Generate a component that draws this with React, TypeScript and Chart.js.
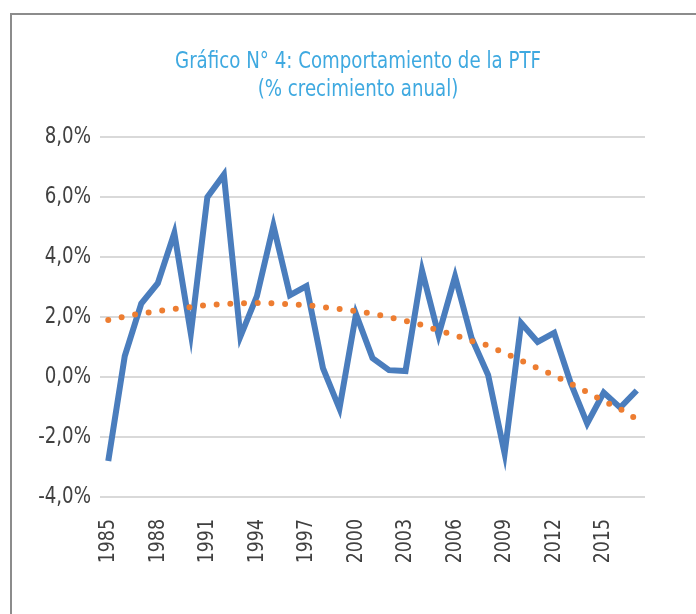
import React, { useEffect, useRef } from "react";
import { Chart, registerables } from "chart.js";

Chart.register(...registerables);

const titleLines = ["Gráfico N° 4: Comportamiento de la PTF", "(% crecimiento anual)"];

const years = [
  "1985", "1986", "1987", "1988", "1989", "1990", "1991", "1992", "1993", "1994",
  "1995", "1996", "1997", "1998", "1999", "2000", "2001", "2002", "2003", "2004",
  "2005", "2006", "2007", "2008", "2009", "2010", "2011", "2012", "2013", "2014",
  "2015", "2016", "2017",
];

// PTF growth, % per year
const ptf = [
  -2.8, 0.7, 2.45, 3.13, 4.8, 1.45, 6.0, 6.75, 1.35, 2.7,
  5.05, 2.73, 3.03, 0.3, -1.05, 2.1, 0.63, 0.23, 0.2, 3.55,
  1.4, 3.35, 1.3, 0.07, -2.55, 1.8, 1.17, 1.47, -0.2, -1.55,
  -0.52, -1.02, -0.45,
];

// polynomial trend line
const trend = [
  1.9, 2.02, 2.12, 2.2, 2.27, 2.33, 2.4, 2.43, 2.46, 2.47,
  2.46, 2.43, 2.4, 2.33, 2.27, 2.2, 2.12, 2.0, 1.87, 1.74,
  1.55, 1.4, 1.2, 1.05, 0.8, 0.55, 0.3, 0.05, -0.22, -0.5,
  -0.8, -1.07, -1.4,
];

const yMin = -4;
const yMax = 8;
const yStep = 2;
const labelEvery = 3;

const FONT = "'DejaVu Sans Condensed', 'DejaVu Sans', sans-serif";
const TEXT_SCALE_X = 0.88;

// narrows every text glyph run horizontally (around its anchor) to mimic a condensed face
const narrowText = {
  id: "narrowText",
  beforeInit(chart: any) {
    const ctx = chart.ctx;
    if (ctx.__narrow) return;
    const orig = ctx.fillText.bind(ctx);
    ctx.fillText = function (t: string, x: number, y: number, mw?: number) {
      ctx.save();
      ctx.translate(x, y);
      ctx.scale(TEXT_SCALE_X, 1);
      if (mw === undefined) orig(t, 0, 0);
      else orig(t, 0, 0, mw / TEXT_SCALE_X);
      ctx.restore();
    };
    ctx.__narrow = true;
  },
};

export default function App() {
  const ref = useRef<HTMLCanvasElement | null>(null);

  useEffect(() => {
    if (!ref.current) return;
    const chart = new Chart(ref.current, {
      type: "line",
      data: {
        labels: years,
        datasets: [
          {
            label: "Tendencia",
            data: trend,
            borderColor: "#ed7d31",
            borderWidth: 6,
            borderDash: [0, 13.7],
            borderCapStyle: "round",
            pointRadius: 0,
            fill: false,
            tension: 0,
            order: 0,
          },
          {
            label: "PTF",
            data: ptf,
            borderColor: "#4a7dbd",
            borderWidth: 6,
            pointRadius: 0,
            fill: false,
            tension: 0,
            borderJoinStyle: "miter",
            order: 1,
          },
        ],
      },
      plugins: [narrowText],
      options: {
        responsive: false,
        animation: false,
        layout: { padding: { left: 20, right: 0, top: 0, bottom: 0 } },
        plugins: {
          legend: { display: false },
          tooltip: { enabled: false },
          title: {
            display: true,
            text: titleLines,
            color: "#3fa9e0",
            font: { family: FONT, size: 23, weight: "normal", lineHeight: 1.22 },
            padding: { top: 48, bottom: 33 },
          },
        },
        scales: {
          x: {
            type: "category",
            offset: true,
            grid: { display: false, drawTicks: false },
            border: { display: false },
            ticks: {
              autoSkip: false,
              minRotation: 90,
              maxRotation: 90,
              padding: 22,
              color: "#404040",
              font: { family: FONT, size: 22 },
              callback: function (this: any, v: any, i: number) {
                return i % labelEvery === 0 ? this.getLabelForValue(v) : "";
              },
            },
            afterFit: (s: any) => {
              s.height = 117;
            },
          },
          y: {
            min: yMin,
            max: yMax,
            grid: { color: "#d9d9d9", lineWidth: 2, drawTicks: false },
            border: { display: false },
            ticks: {
              stepSize: yStep,
              padding: 9,
              color: "#404040",
              font: { family: FONT, size: 23 },
              callback: (v: any) => Number(v).toFixed(1).replace(".", ",") + "%",
            },
            afterFit: (s: any) => {
              s.width = 80;
            },
          },
          y2: {
            type: "linear",
            position: "right",
            grid: { display: false, drawTicks: false },
            border: { display: false },
            ticks: { display: false },
            afterFit: (s: any) => {
              s.width = 51;
            },
          },
        },
      },
    } as any);
    return () => chart.destroy();
  }, []);

  return (
    <div style={{ position: "absolute", left: 0, top: 0, width: 696, height: 614, background: "#fff", overflow: "hidden" }}>
      <div
        style={{
          position: "absolute",
          left: 10,
          top: 13,
          right: 0,
          bottom: 0,
          borderLeft: "2px solid #8c8c8c",
          borderTop: "2px solid #8c8c8c",
        }}
      />
      <canvas ref={ref} width={696} height={614} style={{ position: "absolute", left: 0, top: 0, width: 696, height: 614 }} />
    </div>
  );
}
